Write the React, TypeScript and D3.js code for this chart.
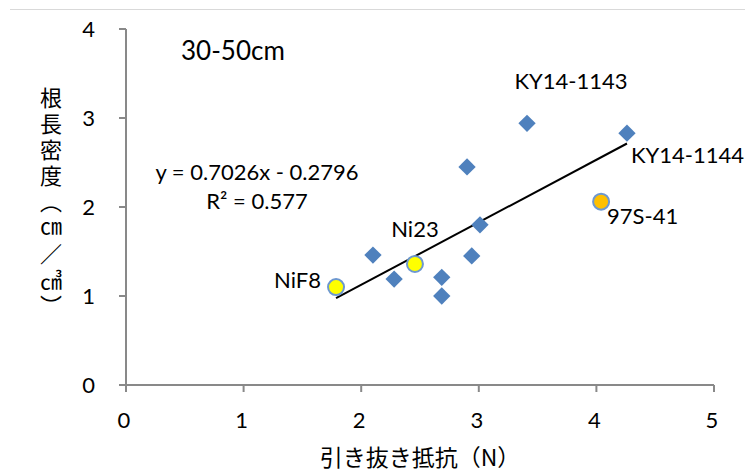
import React from "react";
import * as d3 from "d3";

const W = 745;
const H = 473;

// Blue diamonds (unlabeled + KY lines)
const diamondX = [2.10, 2.28, 2.685, 2.685, 2.94, 3.01, 2.90, 3.41, 4.26];
const diamondY = [1.46, 1.19, 1.21, 1.00, 1.45, 1.80, 2.45, 2.94, 2.83];
const diamondLabels = ["", "", "", "", "", "", "", "KY14-1143", "KY14-1144"];

// Highlighted circles
const circleNames = ["NiF8", "Ni23", "97S-41"];
const circleX = [1.786, 2.457, 4.04];
const circleY = [1.10, 1.36, 2.06];
const circleFill = ["#FFFF00", "#FFFF00", "#FFC000"];

const xTicks = [0, 1, 2, 3, 4, 5];
const yTicks = [0, 1, 2, 3, 4];

const slope = 0.7026;
const intercept = -0.2796;
const eqText = "y = 0.7026x - 0.2796";
const r2Text = "R² = 0.577";
const titleText = "30-50cm";
const xTitle = "引き抜き抵抗（N）";
const yTitle = "根長密度（㎝／㎤）";

const LATIN = "Lato, 'Open Sans', sans-serif";
const CJK = "'Noto Sans CJK JP', sans-serif";

export default function App() {
  const x = d3.scaleLinear().domain([0, 5]).range([126, 714]);
  const y = d3.scaleLinear().domain([0, 4]).range([385, 29]);

  const allX = [...diamondX, ...circleX];
  const x0 = d3.min(allX) as number;
  const x1 = d3.max(allX) as number;
  const line = d3.line<number>().x((d) => x(d)).y((d) => y(slope * d + intercept));

  const diamond = d3.symbol().type(d3.symbolSquare).size(150)();
  const axisColor = "#898989";

  // label offsets relative to point (px)
  const labelPos: Record<string, { dx: number; dy: number; anchor: string }> = {
    "KY14-1143": { dx: 44, dy: -42, anchor: "middle" },
    "KY14-1144": { dx: 4, dy: 22, anchor: "start" },
    "97S-41": { dx: 6, dy: 14, anchor: "start" },
    "Ni23": { dx: 0, dy: -35, anchor: "middle" },
    "NiF8": { dx: -15, dy: -7, anchor: "end" },
  };

  return (
    <svg
      width={W}
      height={H}
      style={{ position: "absolute", left: 0, top: 0, background: "#fff" }}
    >
      <line x1={10} x2={W} y1={9.5} y2={9.5} stroke="#d9d9d9" strokeWidth={1} />

      {/* axes */}
      <line x1={x(0)} x2={x(0)} y1={y(4)} y2={y(0)} stroke={axisColor} strokeWidth={2} />
      <line x1={x(0)} x2={x(5)} y1={y(0)} y2={y(0)} stroke={axisColor} strokeWidth={2} />
      {yTicks.map((t) => (
        <g key={"yt" + t}>
          <line x1={x(0) - 7} x2={x(0)} y1={y(t)} y2={y(t)} stroke={axisColor} strokeWidth={2} />
          <text
            x={95}
            y={y(t)}
            dy="0.36em"
            textAnchor="end"
            fontFamily={LATIN}
            fontSize={22}
            fill="#000"
          >
            {t}
          </text>
        </g>
      ))}
      {xTicks.map((t) => (
        <g key={"xt" + t}>
          <line x1={x(t)} x2={x(t)} y1={y(0)} y2={y(0) + 7} stroke={axisColor} strokeWidth={2} />
          <text
            x={x(t) - 2}
            y={y(0) + 35}
            dy="0.36em"
            textAnchor="middle"
            fontFamily={LATIN}
            fontSize={22}
            fill="#000"
          >
            {t}
          </text>
        </g>
      ))}

      {/* trendline */}
      <path d={line([x0, x1]) as string} stroke="#000" strokeWidth={2} fill="none" />

      {/* diamonds */}
      {diamondX.map((dx, i) => (
        <path
          key={"d" + i}
          d={diamond as string}
          transform={`translate(${x(dx)},${y(diamondY[i])}) rotate(45)`}
          fill="#4F81BD"
        />
      ))}
      {diamondLabels.map((lab, i) =>
        lab ? (
          <text
            key={"dl" + i}
            x={x(diamondX[i]) + labelPos[lab].dx}
            y={y(diamondY[i]) + labelPos[lab].dy}
            dy="0.36em"
            textAnchor={labelPos[lab].anchor}
            fontFamily={LATIN}
            fontSize={22}
            fill="#000"
          >
            {lab}
          </text>
        ) : null
      )}

      {/* circles */}
      {circleX.map((cx, i) => (
        <circle
          key={"c" + i}
          cx={x(cx)}
          cy={y(circleY[i])}
          r={8}
          fill={circleFill[i]}
          stroke="#6D98D0"
          strokeWidth={2}
        />
      ))}
      {circleNames.map((n, i) => (
        <text
          key={"cl" + i}
          x={x(circleX[i]) + labelPos[n].dx}
          y={y(circleY[i]) + labelPos[n].dy}
          dy="0.36em"
          textAnchor={labelPos[n].anchor}
          fontFamily={LATIN}
          fontSize={22}
          fill="#000"
        >
          {n}
        </text>
      ))}

      {/* equation */}
      <text x={257} y={172} dy="0.36em" textAnchor="middle" fontFamily={LATIN} fontSize={22}>
        {eqText}
      </text>
      <text x={257} y={201} dy="0.36em" textAnchor="middle" fontFamily={LATIN} fontSize={22}>
        {r2Text}
      </text>

      {/* title */}
      <text x={181} y={51} dy="0.36em" fontFamily={LATIN} fontSize={26}>
        {titleText}
      </text>

      {/* x-axis title */}
      <text x={420} y={458} dy="0.36em" textAnchor="middle" fontFamily={CJK} fontSize={23}>
        {xTitle}
      </text>

      {/* y-axis title (vertical) */}
      <text
        x={51}
        y={204}
        textAnchor="middle"
        fontFamily={CJK}
        fontSize={22}
        style={{ writingMode: "vertical-rl", letterSpacing: "4px" } as any}
      >
        {yTitle}
      </text>
    </svg>
  );
}
